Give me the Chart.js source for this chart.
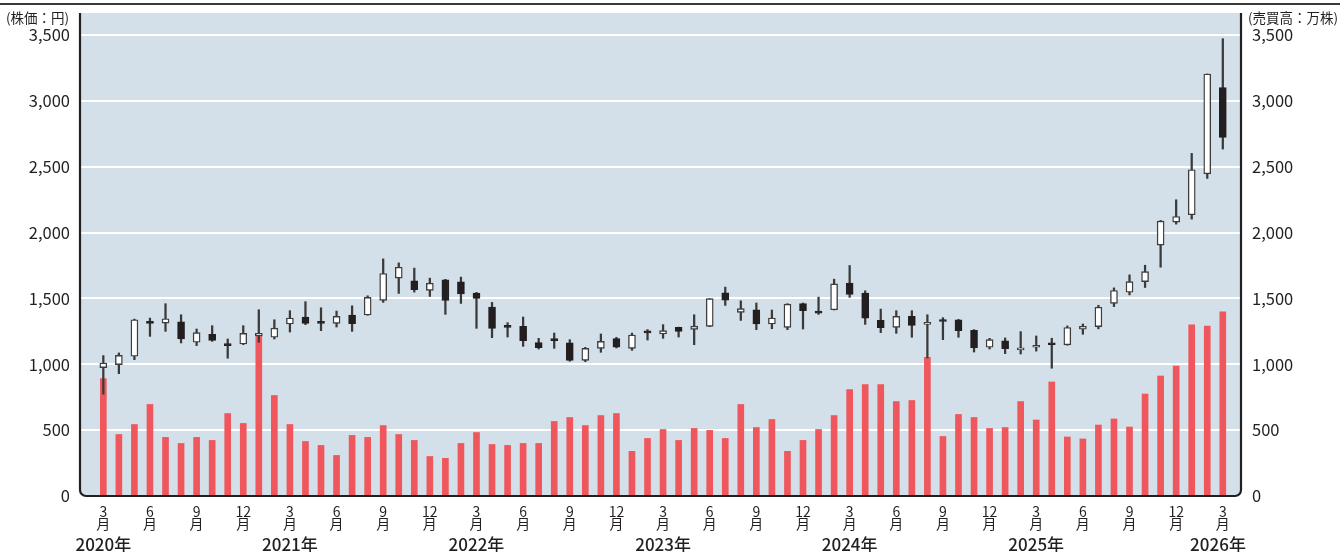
<!DOCTYPE html>
<html lang="ja">
<head>
<meta charset="utf-8">
<script src="https://cdn.jsdelivr.net/npm/chart.js@4"></script>
<style>
  html, body { margin: 0; padding: 0; background: #fff; }
  #wrap { width: 1340px; height: 552px; }
</style>
</head>
<body>
<div id="wrap"><canvas id="stockChart" width="1340" height="552"></canvas></div>
<script>
// 月足データ（2020年3月〜2026年3月）
const openPrices = [
  975, 998, 1061, 1315, 1313, 1323, 1167, 1227, 1150, 1154, 1215, 1205,
  1306, 1359, 1315, 1311, 1374, 1374, 1485, 1654, 1634, 1561, 1641, 1626,
  1540, 1434, 1285, 1288, 1164, 1185, 1162, 1030, 1121, 1195, 1121, 1242,
  1230, 1280, 1265, 1288, 1543, 1394, 1414, 1306, 1280, 1460, 1392, 1414,
  1616, 1540, 1333, 1280, 1364, 1303, 1330, 1338, 1258, 1129, 1179, 1109,
  1129, 1152, 1147, 1266, 1286, 1463, 1547, 1628, 1905, 2079, 2135, 2446,
  3100
];
const highPrices = [
  1066, 1086, 1343, 1351, 1460, 1376, 1268, 1293, 1192, 1293, 1414, 1338,
  1407, 1475, 1429, 1404, 1444, 1520, 1800, 1770, 1730, 1654, 1645, 1662,
  1546, 1470, 1316, 1359, 1197, 1237, 1187, 1129, 1230, 1205, 1237, 1263,
  1301, 1282, 1376, 1498, 1586, 1482, 1465, 1412, 1460, 1465, 1510, 1646,
  1750, 1558, 1419, 1407, 1407, 1376, 1354, 1341, 1263, 1197, 1200, 1248,
  1215, 1198, 1291, 1306, 1448, 1580, 1679, 1752, 2092, 2249, 2601, 3204,
  3472
];
const lowPrices = [
  773, 929, 1035, 1212, 1250, 1162, 1142, 1174, 1046, 1149, 1167, 1192,
  1245, 1301, 1255, 1283, 1250, 1372, 1470, 1538, 1548, 1515, 1379, 1462,
  1273, 1202, 1207, 1136, 1116, 1121, 1023, 1020, 1091, 1124, 1106, 1184,
  1197, 1207, 1149, 1286, 1447, 1333, 1263, 1270, 1263, 1268, 1379, 1412,
  1508, 1303, 1240, 1235, 1205, 1048, 1187, 1205, 1093, 1116, 1081, 1078,
  1100, 970, 1145, 1228, 1269, 1438, 1527, 1583, 1737, 2064, 2102, 2411,
  2634
];
const closePrices = [
  1010, 1068, 1338, 1310, 1346, 1192, 1240, 1182, 1142, 1235, 1235, 1275,
  1351, 1311, 1310, 1364, 1308, 1508, 1689, 1737, 1566, 1616, 1485, 1535,
  1500, 1273, 1280, 1179, 1126, 1180, 1030, 1121, 1174, 1129, 1222, 1238,
  1255, 1250, 1290, 1498, 1487, 1422, 1306, 1351, 1457, 1407, 1388, 1611,
  1530, 1351, 1278, 1364, 1296, 1318, 1325, 1255, 1124, 1187, 1119, 1124,
  1144, 1148, 1279, 1289, 1433, 1560, 1628, 1704, 2087, 2122, 2477, 3204,
  2722
];
// 売買高（万株）
const volumes = [
  891, 467, 543, 695, 445, 399, 445, 422, 626, 551, 1220, 763,
  543, 414, 384, 308, 460, 445, 535, 467, 422, 300, 286, 399,
  482, 391, 384, 399, 399, 566, 596, 535, 611, 626, 339, 437,
  505, 422, 513, 498, 437, 695, 520, 581, 339, 422, 505, 611,
  808, 846, 846, 717, 725, 1053, 452, 619, 596, 513, 520, 717,
  577, 866, 448, 433, 539, 585, 524, 774, 911, 987, 1299, 1291,
  1398
];

// 目盛ラベル（3か月ごと）と年ラベル
const tickMonths = ['3', '6', '9', '12', '3', '6', '9', '12', '3', '6', '9', '12',
  '3', '6', '9', '12', '3', '6', '9', '12', '3', '6', '9', '12', '3'];
const yearLabels = ['2020年', '2021年', '2022年', '2023年', '2024年', '2025年', '2026年'];
const priceTicks = [0, 500, 1000, 1500, 2000, 2500, 3000, 3500];

const FONT = '"Noto Sans CJK JP", "Noto Sans", sans-serif';
const TEXT = '#231f20';

const bodyData = openPrices.map((o, i) => ({ x: i, y: [o, closePrices[i]] }));
const wickData = lowPrices.map((l, i) => ({ x: i, y: [l, highPrices[i]] }));
const volData = volumes.map((v, i) => ({ x: i, y: v }));
const isUp = openPrices.map((o, i) => closePrices[i] >= o);

// 背景・枠・見出しを描くプラグイン
const framePlugin = {
  id: 'frame',
  beforeDraw(chart) {
    const { ctx, chartArea: a } = chart;
    ctx.save();
    ctx.fillStyle = '#d3e0e9';
    roundedBottom(ctx, a, 6);
    ctx.fill();
    ctx.restore();
  },
  afterDraw(chart) {
    const { ctx, chartArea: a, scales } = chart;
    ctx.save();
    // 枠線
    ctx.strokeStyle = '#231f20';
    ctx.lineWidth = 2.2;
    roundedBottom(ctx, a, 6);
    ctx.stroke();
    // 上端の罫線
    ctx.fillStyle = '#3a3a3a';
    ctx.fillRect(0, 3, chart.width, 2);
    // 単位
    ctx.fillStyle = TEXT;
    ctx.font = '13.5px ' + FONT;
    ctx.textBaseline = 'middle';
    ctx.textAlign = 'left';
    ctx.fillText('(株価：円)', 6, 17.5);
    ctx.fillText('(売買高：万株)', 1248, 17.5);
    // 年ラベル
    ctx.font = '500 17px ' + FONT;
    ctx.textAlign = 'center';
    yearLabels.forEach((t, k) => {
      const x = scales.x.getPixelForValue(k * 12);
      ctx.fillText(t, Math.min(x, 1218), 545);
    });
    ctx.restore();
  }
};

function roundedBottom(ctx, a, r) {
  ctx.beginPath();
  ctx.moveTo(a.left, a.top);
  ctx.lineTo(a.left, a.bottom - r);
  ctx.arcTo(a.left, a.bottom, a.left + r, a.bottom, r);
  ctx.lineTo(a.right - r, a.bottom);
  ctx.arcTo(a.right, a.bottom, a.right, a.bottom - r, r);
  ctx.lineTo(a.right, a.top);
}

function keepPriceTicks(scale) {
  scale.ticks = priceTicks.map(v => ({ value: v }));
}

function noPadding(scale) {
  scale.paddingTop = 0;
  scale.paddingBottom = 0;
  scale.paddingLeft = 0;
  scale.paddingRight = 0;
}

const ctx = document.getElementById('stockChart').getContext('2d');
new Chart(ctx, {
  type: 'bar',
  data: {
    datasets: [
      {
        label: '始値・終値',
        data: bodyData,
        yAxisID: 'y',
        grouped: false,
        order: 1,
        barThickness: 7,
        minBarLength: 2,
        borderWidth: 1.4,
        borderSkipped: false,
        backgroundColor: isUp.map(u => u ? '#ffffff' : '#231f20'),
        borderColor: isUp.map(u => u ? '#3d3d3d' : '#231f20')
      },
      {
        label: '高値・安値',
        data: wickData,
        yAxisID: 'y',
        grouped: false,
        order: 2,
        barThickness: 1.6,
        backgroundColor: '#3a3a3a'
      },
      {
        label: '売買高',
        data: volData,
        yAxisID: 'y2',
        grouped: false,
        order: 3,
        barThickness: 6,
        backgroundColor: '#ef575d'
      }
    ]
  },
  options: {
    responsive: false,
    animation: false,
    devicePixelRatio: 1,
    layout: { padding: { top: 13, left: 0, right: 0, bottom: 0 } },
    plugins: {
      legend: { display: false },
      tooltip: { enabled: false }
    },
    scales: {
      x: {
        type: 'linear',
        offset: false,
        min: -1.5,
        max: 73.17,
        afterBuildTicks(scale) {
          scale.ticks = tickMonths.map((m, k) => ({ value: k * 3 }));
        },
        afterFit(scale) { scale.height = 56; noPadding(scale); },
        grid: { display: false, offset: false },
        border: { display: false },
        ticks: {
          autoSkip: false,
          maxRotation: 0,
          padding: 1,
          color: TEXT,
          font: { family: FONT, size: 14, lineHeight: 0.9 },
          callback: (v, k) => [tickMonths[k], '月']
        }
      },
      y: {
        position: 'left',
        min: 0,
        max: 3667,
        afterBuildTicks: keepPriceTicks,
        afterFit(scale) { scale.width = 80; noPadding(scale); },
        grid: { color: '#ffffff', lineWidth: 2, drawTicks: false },
        border: { display: false },
        ticks: {
          padding: 10,
          color: TEXT,
          font: { family: FONT, size: 16.5 },
          callback: v => v.toLocaleString('en-US')
        }
      },
      y2: {
        position: 'right',
        min: 0,
        max: 3667,
        afterBuildTicks: keepPriceTicks,
        afterFit(scale) { scale.width = 99; noPadding(scale); },
        grid: { display: false, drawTicks: false },
        border: { display: false },
        ticks: {
          padding: 11,
          color: TEXT,
          font: { family: FONT, size: 16.5 },
          callback: v => v.toLocaleString('en-US')
        }
      }
    }
  },
  plugins: [framePlugin]
});
</script>
</body>
</html>
